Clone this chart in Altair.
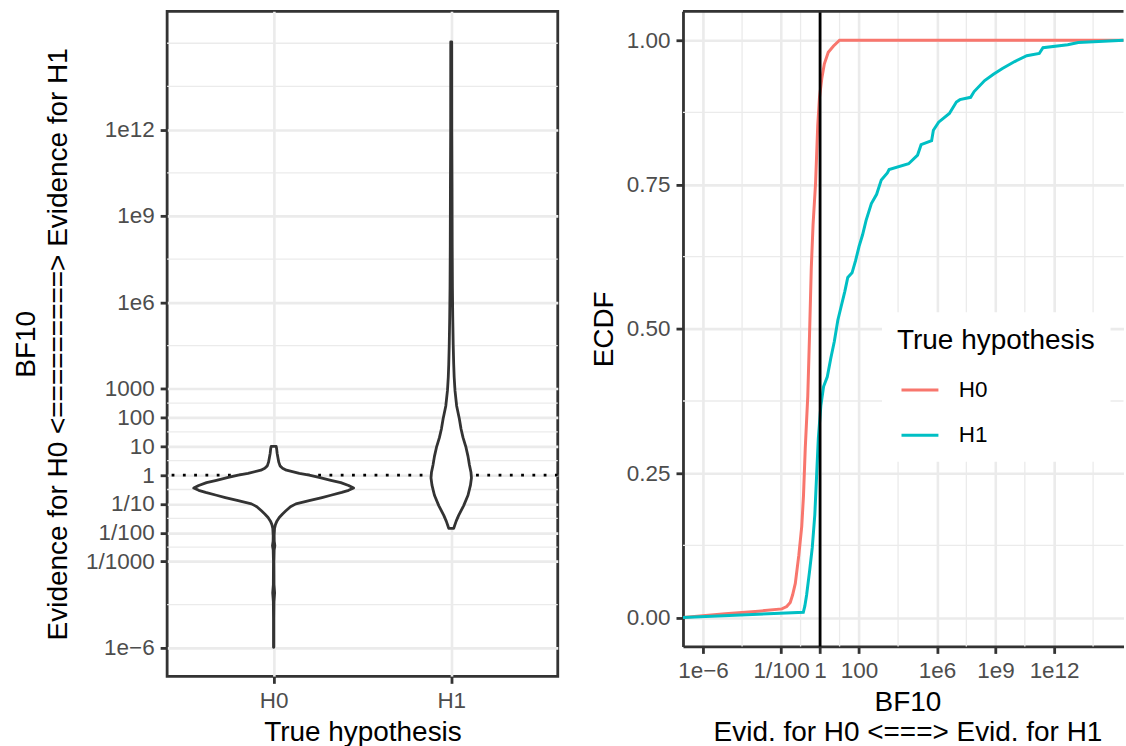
import altair as alt
import pandas as pd

FONT = "Liberation Sans"
GROUPS = ["H0", "H1"]
GROUP_POS = [1, 2]
COLORS = ["#F8766D", "#00BFC4"]

# ---------------- violin outlines: log10(BF) and relative half-width ----------------
H0_VIOLIN_LOG = [1.0, 0.92, 0.75, 0.61, 0.45, 0.32, 0.24, 0.17, 0.06, 0.0, -0.08, -0.18,
                 -0.26, -0.36, -0.45, -0.53, -0.6, -0.7, -0.78, -0.89, -1.0, -1.1, -1.24,
                 -1.35, -1.47, -1.6, -1.72, -1.85, -2.1, -2.3, -2.45, -2.6, -3.0, -3.8,
                 -4.09, -4.4, -5.0, -5.98]
H0_VIOLIN_W = [0.031, 0.037, 0.044, 0.053, 0.064, 0.080, 0.111, 0.160, 0.321, 0.444, 0.568,
               0.716, 0.840, 0.938, 1.0, 0.938, 0.852, 0.716, 0.605, 0.444, 0.278, 0.210,
               0.153, 0.111, 0.070, 0.040, 0.022, 0.011, 0.006, 0.007, 0.015, 0.006, 0.0025,
               0.004, 0.012, 0.004, 0.002, 0.002]
H1_VIOLIN_LOG = [-1.85, -1.75, -1.6, -1.4, -1.06, -0.7, -0.35, -0.1, 0.1, 0.35, 0.65, 0.96,
                 1.3, 1.6, 1.95, 2.4, 2.94, 3.4, 3.85, 4.5, 5.5, 6.5, 8.0, 10.0, 12.0, 15.05]
H1_VIOLIN_W = [0.031, 0.043, 0.062, 0.093, 0.156, 0.210, 0.241, 0.253, 0.247, 0.228, 0.210,
               0.185, 0.148, 0.123, 0.102, 0.068, 0.047, 0.037, 0.031, 0.025, 0.019, 0.015,
               0.012, 0.010, 0.007, 0.006]
VIOLIN_HALF = 0.45

# ---------------- ECDF traces: log10(BF) and cumulative proportion ----------------
ECDF_H0_LOG = [-7.03, -4.86, -3.16, -1.96, -1.71, -1.53, -1.41, -1.27, -1.09, -0.94, -0.85,
               -0.76, -0.63, -0.54, -0.45, -0.36, -0.23, -0.12, -0.03, 0.09, 0.22, 0.42,
               0.69, 1.0, 15.58]
ECDF_H0_P = [0.0, 0.0064, 0.011, 0.015, 0.019, 0.026, 0.039, 0.059, 0.108, 0.158, 0.211,
             0.293, 0.384, 0.49, 0.606, 0.68, 0.753, 0.852, 0.901, 0.934, 0.959, 0.979,
             0.99, 1.0, 1.0]
ECDF_H1_LOG = [-7.03, -0.86, -0.78, -0.69, -0.54, -0.40, -0.27, -0.18, -0.09, 0.04, 0.18,
               0.37, 0.55, 0.73, 0.91, 1.09, 1.27, 1.42, 1.64, 1.82, 2.0, 2.18, 2.36, 2.63,
               2.9, 3.14, 3.45, 3.54, 4.54, 5.0, 5.18, 5.72, 5.81, 6.08, 6.63, 6.99, 7.17,
               7.72, 7.9, 8.44, 8.89, 9.35, 9.98, 10.6, 11.24, 11.43, 12.7, 13.24, 15.58]
ECDF_H1_P = [0.0, 0.009, 0.02, 0.039, 0.08, 0.121, 0.178, 0.244, 0.31, 0.367, 0.40, 0.417,
             0.449, 0.478, 0.515, 0.54, 0.565, 0.589, 0.597, 0.618, 0.643, 0.663, 0.688,
             0.717, 0.733, 0.758, 0.77, 0.776, 0.786, 0.801, 0.819, 0.826, 0.844, 0.858,
             0.873, 0.893, 0.897, 0.901, 0.911, 0.93, 0.941, 0.951, 0.963, 0.973, 0.977,
             0.987, 0.992, 0.996, 1.0]

# ---------------- axes: ticks, labels, minor grid ----------------
LEFT_Y_EXPS = [-6, -3, -2, -1, 0, 1, 2, 3, 6, 9, 12]
LEFT_Y_LABELS = ["1e\u22126", "1/1000", "1/100", "1/10", "1", "10", "100", "1000",
                 "1e6", "1e9", "1e12"]
LEFT_Y_MINOR = [-4.5, -2.5, -1.5, -0.5, 0.5, 1.5, 2.5, 4.5, 7.5, 10.5, 13.5, 15]
LEFT_Y_DOMAIN = [-6.99, 16.11]
LEFT_X_DOMAIN = [0.4, 2.6]

RIGHT_X_EXPS = [-6, -2, 0, 2, 6, 9, 12]
RIGHT_X_LABELS = ["1e\u22126", "1/100", "1", "100", "1e6", "1e9", "1e12"]
RIGHT_X_MINOR = [-4, -1, 1, 4, 7.5, 10.5, 14]
RIGHT_X_DOMAIN = [-7.03, 15.56]
RIGHT_Y_TICKS = [0, 0.25, 0.5, 0.75, 1.0]
RIGHT_Y_MINOR = [0.125, 0.375, 0.625, 0.875]
RIGHT_Y_DOMAIN = [-0.05, 1.05]
VLINE_BF = [1.0]
HLINE_BF = [1.0]

LEFT_Y_TITLE = ["BF10", "Evidence for H0 <=========> Evidence for H1"]
LEFT_X_TITLE = "True hypothesis"
RIGHT_X_TITLE = ["BF10", "Evid. for H0 <===> Evid. for H1"]
RIGHT_Y_TITLE = "ECDF"
LEGEND_TITLE = "True hypothesis"

DARK = "#333333"
GRID = "#EBEBEB"


def log_label_expr(exps, labels):
    parts = [f"round(log(datum.value)/LN10) == {e} ? '{l}'" for e, l in zip(exps, labels)]
    return " : ".join(parts) + " : ''"


# ---------------- data tables ----------------
# closed violin outline: right side top->bottom, then left side bottom->top
vrows = []
for g, pos, logs, ws in [("H0", GROUP_POS[0], H0_VIOLIN_LOG, H0_VIOLIN_W),
                         ("H1", GROUP_POS[1], H1_VIOLIN_LOG, H1_VIOLIN_W)]:
    pts = sorted(zip(logs, ws), key=lambda t: -t[0])
    outline = [(pos + w * VIOLIN_HALF, L) for L, w in pts]
    outline += [(pos - w * VIOLIN_HALF, L) for L, w in reversed(pts)]
    outline.append(outline[0])
    for i, (xv, L) in enumerate(outline):
        vrows.append({"group": g, "seq": i, "px": xv, "bf": 10.0 ** L})
violin_df = pd.DataFrame(vrows)

erows = []
for g, logs, ps in [("H0", ECDF_H0_LOG, ECDF_H0_P), ("H1", ECDF_H1_LOG, ECDF_H1_P)]:
    for i, (L, p) in enumerate(zip(logs, ps)):
        erows.append({"group": g, "idx": i, "bf": 10.0 ** L, "p": p})
ecdf_df = pd.DataFrame(erows)

# ---------------- left panel ----------------
ly_scale = alt.Scale(type="log", domain=[10.0 ** v for v in LEFT_Y_DOMAIN], nice=False)
lx_scale = alt.Scale(domain=LEFT_X_DOMAIN, nice=False, zero=False)
ly_axis = alt.Axis(values=[10.0 ** e for e in LEFT_Y_EXPS],
                   labelExpr=log_label_expr(LEFT_Y_EXPS, LEFT_Y_LABELS),
                   title=LEFT_Y_TITLE, grid=True, domain=False, titlePadding=13.5,
                   titleLineHeight=32)
lx_axis = alt.Axis(values=GROUP_POS,
                   labelExpr=f"datum.value == {GROUP_POS[0]} ? '{GROUPS[0]}' : '{GROUPS[1]}'",
                   title=LEFT_X_TITLE, grid=True, domain=False, labelPadding=6,
                   titlePadding=6.5)

left_minor = alt.Chart(pd.DataFrame({"bf": [10.0 ** v for v in LEFT_Y_MINOR]})).mark_rule(
    color=GRID, strokeWidth=1.3).encode(y=alt.Y("bf:Q", scale=ly_scale, axis=ly_axis))
left_hline = alt.Chart(pd.DataFrame({"bf": HLINE_BF})).mark_rule(
    color="black", strokeWidth=2.8, strokeDash=[2.8, 8.5]).encode(
    y=alt.Y("bf:Q", scale=ly_scale, axis=ly_axis))
left_violin = alt.Chart(violin_df).mark_line(
    fill="white", stroke=DARK, strokeWidth=2.8, strokeJoin="round", strokeCap="round").encode(
    y=alt.Y("bf:Q", scale=ly_scale, axis=ly_axis),
    x=alt.X("px:Q", scale=lx_scale, axis=lx_axis),
    detail="group:N",
    order="seq:Q",
)
left = alt.layer(left_minor, left_hline, left_violin).properties(
    width=391.5, height=666.5,
    view=alt.ViewBackground(stroke=DARK, strokeWidth=2.8))

# ---------------- right panel ----------------
rx_scale = alt.Scale(type="log", domain=[10.0 ** v for v in RIGHT_X_DOMAIN], nice=False)
ry_scale = alt.Scale(domain=RIGHT_Y_DOMAIN, nice=False, zero=False)
rx_axis = alt.Axis(values=[10.0 ** e for e in RIGHT_X_EXPS],
                   labelExpr=log_label_expr(RIGHT_X_EXPS, RIGHT_X_LABELS),
                   title=RIGHT_X_TITLE, grid=True, domain=True, titleX=225,
                   labelPadding=6, titlePadding=6.5, titleLineHeight=30)
ry_axis = alt.Axis(values=RIGHT_Y_TICKS, format=".2f", title=RIGHT_Y_TITLE, grid=True,
                   domain=True, titlePadding=8)

r_minor_x = alt.Chart(pd.DataFrame({"bf": [10.0 ** v for v in RIGHT_X_MINOR]})).mark_rule(
    color=GRID, strokeWidth=1.3).encode(x=alt.X("bf:Q", scale=rx_scale, axis=rx_axis))
r_minor_y = alt.Chart(pd.DataFrame({"p": RIGHT_Y_MINOR})).mark_rule(
    color=GRID, strokeWidth=1.3).encode(y=alt.Y("p:Q", scale=ry_scale, axis=ry_axis))
legend = alt.Legend(orient="none", legendX=716.5, legendY=301.5, title=LEGEND_TITLE,
                    fillColor="white", padding=15, titlePadding=15, titleLimit=600,
                    titleFontSize=28, titleFontWeight="normal", titleColor="black",
                    labelFontSize=22.5, labelColor="black", symbolType="stroke",
                    symbolSize=1369, symbolStrokeWidth=3, rowPadding=13.4, labelOffset=19,
                    symbolOffset=3)
r_ecdf = alt.Chart(ecdf_df).mark_line(strokeWidth=3, clip=True).encode(
    x=alt.X("bf:Q", scale=rx_scale, axis=rx_axis),
    y=alt.Y("p:Q", scale=ry_scale, axis=ry_axis),
    color=alt.Color("group:N", scale=alt.Scale(domain=GROUPS, range=COLORS), legend=legend),
    order="idx:Q",
)
r_vline = alt.Chart(pd.DataFrame({"bf": VLINE_BF})).mark_rule(
    color="black", strokeWidth=2.8).encode(x=alt.X("bf:Q", scale=rx_scale, axis=rx_axis))
# top frame edge of the (right-cropped) panel, drawn at the upper end of the y domain
r_top = alt.Chart(pd.DataFrame({"p": [RIGHT_Y_DOMAIN[1]]})).mark_rule(
    color=DARK, strokeWidth=2.8).encode(y=alt.Y("p:Q", scale=ry_scale, axis=ry_axis))

right = alt.layer(r_minor_x, r_minor_y, r_ecdf, r_vline, r_top).properties(
    width=441.5, height=636.5)

chart = alt.hconcat(left, right, spacing=125, bounds="flush",
                    padding={"left": 10.5, "top": 8.5, "right": 0, "bottom": 0}).configure(
    font=FONT).configure_view(stroke="transparent").configure_axis(
    labelFont=FONT, labelFontSize=22.5, labelColor="#4D4D4D", labelPadding=6,
    titleFont=FONT, titleFontSize=28, titleFontWeight="normal", titleColor="black",
    titleLineHeight=30, tickColor=DARK, tickWidth=2.8, tickSize=7,
    gridColor=GRID, gridWidth=2.6, domainColor=DARK, domainWidth=2.8,
).configure_legend(labelFont=FONT, titleFont=FONT)

chart.save("out.html", embed_options={"renderer": "svg", "actions": False})
